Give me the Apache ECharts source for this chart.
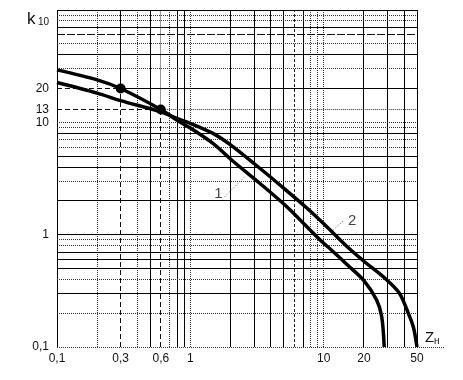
<!DOCTYPE html>
<html><head><meta charset="utf-8">
<style>html,body{margin:0;padding:0;background:#fff}#c{width:463px;height:380px}</style>
<script src="https://cdn.jsdelivr.net/npm/echarts@6/dist/echarts.min.js"></script>
</head><body><div id="c"></div>
<script>
// ---- data ----
const xTickLabels = [0.1, 0.3, 0.6, 1, 10, 20, 50];
const yTickLabels = [0.1, 1, 10, 13, 20];
const curve1X = [0.1, 0.2, 0.3, 0.6, 0.83, 1, 1.5, 2.09, 3.31, 5.26, 9.35, 11.4, 15, 19.8, 24.9, 27.2, 28.4];
const curve1Y = [29.3, 23.9, 20, 13, 10.1, 8.9, 6.4, 4.5, 2.87, 1.78, 0.9, 0.73, 0.54, 0.395, 0.262, 0.186, 0.1];
const curve2X = [0.1, 0.2, 0.3, 0.6, 0.83, 1, 1.5, 2, 3, 5, 7.5, 10, 15, 20, 28.7, 37, 43, 47, 50];
const curve2Y = [22.6, 18.2, 15.6, 12.4, 10.6, 9.8, 7.9, 6.3, 4.3, 2.6, 1.72, 1.25, 0.78, 0.58, 0.41, 0.30, 0.2, 0.15, 0.1];
const markedX = [0.3, 0.6];
const markedY = [20, 13];
const gridXSolid = [0.1, 0.5, 0.8, 0.9, 2, 3, 4, 5, 7, 20, 30, 40, 50];
const gridXDotted = [0.2, 0.4, 0.7, 1, 8, 9, 10];
const gridXDashed = [6];
const gridYSolid = [100, 70, 40, 8, 5, 4, 2, 1, 0.7, 0.6, 0.5, 0.3];
const gridYDotted = [90, 80, 50, 30, 10, 9, 7, 6, 3, 0.9, 0.8, 0.4, 0.2, 0.1];
const gridYDashed = [60];
const curveNames = ['1', '2'];
const curveLabelX = [1.62, 16.3];
const curveLabelY = [2.33, 1.34];
const leader1X = [1.81, 2.56], leader1Y = [2.18, 3.29];
const leader2X = [13.9, 11.4], leader2Y = [1.32, 1.06];
const X_MIN = 0.1, X_MAX = 50, Y_MIN = 0.1, Y_MAX = 100;

// ---- styles ----
const FONT = 'Liberation Sans';
const STYLES = [
  { stroke: '#000', lineDash: null },           // solid
  { stroke: '#333', lineDash: [1, 1] },         // dotted
  { stroke: '#111', lineDash: [8, 2] },         // long dash
  { stroke: '#111', lineDash: [5, 3] },         // marker dash
  { stroke: '#222', lineDash: [3, 2] }          // short dash
];

const zip = (a, b) => a.map((v, i) => [v, b[i]]);

const segs = [];
gridXSolid.forEach(v => segs.push([v, Y_MIN, v, Y_MAX, 0]));
gridXDotted.forEach(v => segs.push([v, Y_MIN, v, Y_MAX, 1]));
gridXDashed.forEach(v => segs.push([v, Y_MIN, v, Y_MAX, 4]));
gridYSolid.forEach(v => segs.push([X_MIN, v, X_MAX, v, 0]));
gridYDotted.forEach(v => segs.push([X_MIN, v, X_MAX, v, 1]));
gridYDashed.forEach(v => segs.push([X_MIN, v, X_MAX, v, 2]));
segs.push([markedX[0], Y_MIN, markedX[0], markedY[0], 3]);
segs.push([markedX[0], markedY[0], markedX[0], Y_MAX, 0]);
segs.push([X_MIN, markedY[0], markedX[0], markedY[0], 3]);
segs.push([markedX[0], markedY[0], X_MAX, markedY[0], 0]);
segs.push([markedX[1], Y_MIN, markedX[1], markedY[1], 3]);
segs.push([markedX[1], markedY[1], markedX[1], Y_MAX, 1]);
segs.push([X_MIN, markedY[1], markedX[1], markedY[1], 3]);
segs.push([markedX[1], markedY[1], X_MAX, markedY[1], 1]);

function renderGrid(params, api) {
  const a = api.coord([api.value(0), api.value(1)]);
  const b = api.coord([api.value(2), api.value(3)]);
  const s = STYLES[api.value(4)];
  let x1 = a[0], y1 = a[1], x2 = b[0], y2 = b[1];
  if (Math.abs(x1 - x2) < 0.01) { x1 = x2 = Math.floor(x1) + 0.5; }
  if (Math.abs(y1 - y2) < 0.01) { y1 = y2 = Math.floor(y1) + 0.5; }
  return { type: 'line', shape: { x1, y1, x2, y2 },
    style: { stroke: s.stroke, lineWidth: 1, lineDash: s.lineDash, fill: null } };
}

const chart = echarts.init(document.getElementById('c'), null, { renderer: 'canvas' });
const fmt = v => String(v).replace('.', ',');
chart.setOption({
  animation: false,
  backgroundColor: '#fff',
  grid: { left: 57, top: 10, width: 360, height: 337, containLabel: false },
  xAxis: {
    type: 'log', logBase: 10, min: X_MIN, max: X_MAX,
    axisLine: { show: false }, axisTick: { show: false }, splitLine: { show: false },
    axisLabel: { customValues: xTickLabels, formatter: fmt, margin: 6,
      fontFamily: FONT, fontSize: 12, color: '#111', showMinLabel: true, showMaxLabel: true }
  },
  yAxis: {
    type: 'log', logBase: 10, min: Y_MIN, max: Y_MAX,
    axisLine: { show: false }, axisTick: { show: false }, splitLine: { show: false },
    axisLabel: { customValues: yTickLabels, formatter: fmt, margin: 8,
      fontFamily: FONT, fontSize: 12, color: '#111', showMinLabel: true, showMaxLabel: true }
  },
  graphic: [
    { type: 'line', shape: { x1: 417, y1: 347.5, x2: 445, y2: 347.5 },
      style: { stroke: '#333', lineWidth: 1, lineDash: [1, 1] } },
    { type: 'text', x: 27, y: 19.5, style: { text: 'k', font: '17px "Liberation Sans"', fill: '#111', verticalAlign: 'middle' } },
    { type: 'text', x: 38, y: 22, style: { text: '10', font: '10px "Liberation Sans"', fill: '#111', verticalAlign: 'middle' } },
    { type: 'text', x: 425, y: 337.5, style: { text: 'Z', font: '15px "Liberation Sans"', fill: '#111', verticalAlign: 'middle' } },
    { type: 'text', x: 434, y: 341, style: { text: 'н', font: '10px "Liberation Sans"', fill: '#111', verticalAlign: 'middle' } }
  ],
  series: [
    { type: 'custom', renderItem: renderGrid, data: segs, encode: { x: [0, 2], y: [1, 3] }, z: 1, silent: true, clip: false },
    { type: 'line', name: 'leader1', data: zip(leader1X, leader1Y), symbol: 'none', z: 2, silent: true,
      lineStyle: { color: '#444', width: 1, type: [1, 2] } },
    { type: 'line', name: 'leader2', data: zip(leader2X, leader2Y), symbol: 'none', z: 2, silent: true,
      lineStyle: { color: '#444', width: 1, type: [1, 2] } },
    { type: 'line', name: '1', data: zip(curve1X, curve1Y), symbol: 'none', smooth: 0.3, z: 5,
      lineStyle: { color: '#000', width: 3.5 } },
    { type: 'line', name: '2', data: zip(curve2X, curve2Y), symbol: 'none', smooth: 0.3, z: 5,
      lineStyle: { color: '#000', width: 3.5 } },
    { type: 'scatter', data: zip(markedX, markedY), symbolSize: 10, z: 6, itemStyle: { color: '#000', opacity: 1 } },
    { type: 'scatter', z: 7, symbolSize: 1, itemStyle: { color: 'rgba(0,0,0,0)' },
      data: curveNames.map((n, i) => ({ name: n, value: [curveLabelX[i], curveLabelY[i]] })),
      label: { show: true, position: 'inside', formatter: p => p.name, fontFamily: FONT, fontSize: 15, color: '#111' } }
  ]
});
</script></body></html>
